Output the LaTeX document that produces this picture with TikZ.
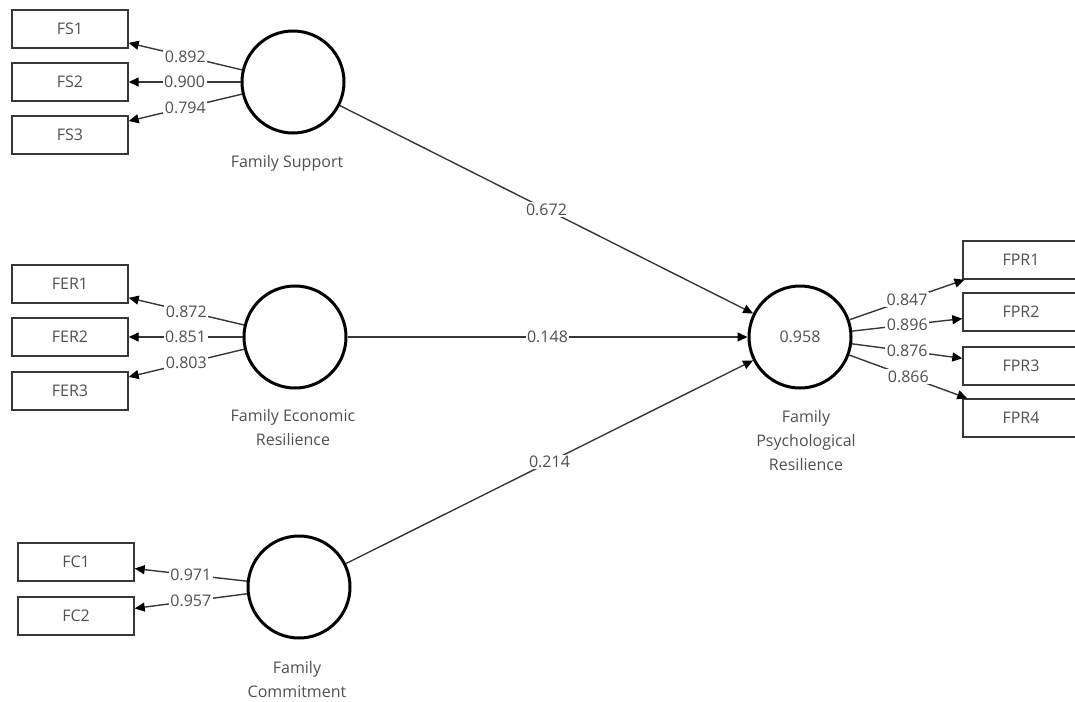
\documentclass[tikz,border=0pt]{standalone}
\usepackage{fontspec}
\setmainfont{Open Sans}
\usetikzlibrary{arrows.meta}
\definecolor{txt}{RGB}{80,80,80}
\definecolor{ln}{RGB}{55,55,55}
\begin{document}
\begin{tikzpicture}[x=1pt,y=-1pt,
  lat/.style={circle,draw=black,line width=3pt,minimum size=102pt,inner sep=0pt,font=\fontsize{16}{18}\selectfont,text=txt},
  ind/.style={rectangle,draw=ln,line width=1.4pt,minimum width=116pt,minimum height=38pt,inner sep=0pt,font=\fontsize{16}{18}\selectfont,text=txt},
  con/.style={draw=ln,line width=1.4pt,-{Triangle[length=10pt,width=9pt,color=black]}},
  lbl/.style={fill=white,inner sep=1.5pt,font=\fontsize{16}{18}\selectfont,text=txt},
  capt/.style={align=center,font=\fontsize{16}{24}\selectfont,text=txt}]
\useasboundingbox (0,0) rectangle (1075,701);
% latent variables
\node[lat] (FS)  at (293,82) {};
\node[lat] (FER) at (295,337) {};
\node[lat] (FC)  at (299,587) {};
\node[lat] (FPR) at (800,337) {0.958};
% captions
\node[capt] (cFS)  at (287,163) {Family Support};
\node[capt] (cFER) at (293,427) {Family Economic\\Resilience};
\node[capt] (cFC)  at (297,679) {Family\\Commitment};
\node[capt] (cFPR) at (806,440) {Family\\Psychological\\Resilience};
% indicators
\node[ind] (FS1) at (70,29) {FS1};
\node[ind] (FS2) at (70,82) {FS2};
\node[ind] (FS3) at (70,135) {FS3};
\node[ind] (FER1) at (70,284) {FER1};
\node[ind] (FER2) at (70,337) {FER2};
\node[ind] (FER3) at (70,391) {FER3};
\node[ind] (FC1) at (76,562) {FC1};
\node[ind] (FC2) at (76,616) {FC2};
\node[ind] (FPR1) at (1021,260) {FPR1};
\node[ind] (FPR2) at (1021,312) {FPR2};
\node[ind] (FPR3) at (1021,366) {FPR3};
\node[ind] (FPR4) at (1021,418) {FPR4};
% loadings
\draw[con] (FS) -- node[lbl]{0.892} (FS1);
\draw[con] (FS) -- node[lbl]{0.900} (FS2);
\draw[con] (FS) -- node[lbl]{0.794} (FS3);
\draw[con] (FER) -- node[lbl]{0.872} (FER1);
\draw[con] (FER) -- node[lbl]{0.851} (FER2);
\draw[con] (FER) -- node[lbl]{0.803} (FER3);
\draw[con] (FC) -- node[lbl]{0.971} (FC1);
\draw[con] (FC) -- node[lbl]{0.957} (FC2);
\draw[con] (FPR) -- node[lbl]{0.847} (FPR1);
\draw[con] (FPR) -- node[lbl]{0.896} (FPR2);
\draw[con] (FPR) -- node[lbl]{0.876} (FPR3);
\draw[con] (FPR) -- node[lbl]{0.866} (FPR4);
% structural paths
\draw[con] (FS) -- node[lbl]{0.672} (FPR);
\draw[con] (FER) -- node[lbl]{0.148} (FPR);
\draw[con] (FC) -- node[lbl]{0.214} (FPR);
\end{tikzpicture}
\end{document}
